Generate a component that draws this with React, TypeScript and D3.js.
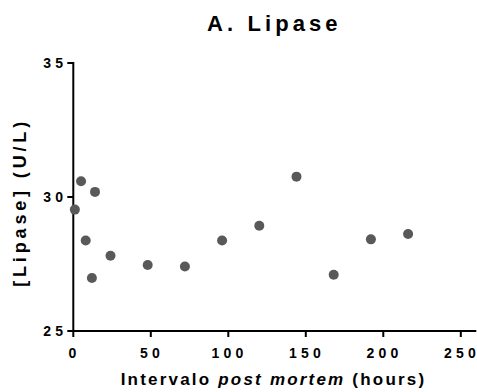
import React from "react";
import * as d3 from "d3";

const hours = [1, 5, 14, 8, 12, 24, 48, 72, 96, 120, 144, 168, 192, 216];
const lipase = [29.53, 30.59, 30.19, 28.38, 26.98, 27.81, 27.46, 27.41, 28.38, 28.93, 30.76, 27.1, 28.42, 28.62];
const xTicks = [0, 50, 100, 150, 200, 250];
const yTicks = [25, 30, 35];

export default function App() {
  const W = 477, H = 392;
  const x = d3.scaleLinear().domain([0, 260]).range([73.3, 476.3]);
  const y = d3.scaleLinear().domain([25, 35]).range([331, 63]);
  const font = "'Liberation Sans', Arial, sans-serif";
  const tickSp = 4.2;
  const lenOf = (t: number) => {
    const n = String(t).length;
    return 7.8 * n + tickSp * (n - 1);
  };
  return (
    <svg width={W} height={H} style={{ position: "absolute", left: 0, top: 0 }} fontFamily={font}>
      <text x={207} y={31} fontSize={22} fontWeight="bold" letterSpacing={4.1}>A. Lipase</text>
      {/* y axis */}
      <line x1={x(0)} x2={x(0)} y1={y(35) - 1} y2={y(25) + 1} stroke="#000" strokeWidth={2} />
      {yTicks.map(t => (
        <g key={t}>
          <line x1={x(0) - 6} x2={x(0)} y1={y(t)} y2={y(t)} stroke="#000" strokeWidth={2} />
          <text x={63} y={y(t) + 5} textAnchor="end" fontSize={14} fontWeight="bold"
            textLength={lenOf(t)} lengthAdjust="spacing">{t}</text>
        </g>
      ))}
      {/* x axis */}
      <line x1={x(0) - 1} x2={x(260)} y1={y(25)} y2={y(25)} stroke="#000" strokeWidth={2} />
      {xTicks.map(t => (
        <g key={t}>
          <line x1={x(t)} x2={x(t)} y1={y(25)} y2={y(25) + 6} stroke="#000" strokeWidth={2} />
          <text x={x(t) - 0.8} y={358} textAnchor="middle" fontSize={14} fontWeight="bold"
            textLength={lenOf(t)} lengthAdjust="spacing">{t}</text>
        </g>
      ))}
      <text x={120.7} y={385} fontSize={17} fontWeight="bold" letterSpacing={2.2}>
        Intervalo <tspan fontStyle="italic">post mortem</tspan> (hours)
      </text>
      <text transform={`translate(26,${200.5 + 1.9}) rotate(-90)`} textAnchor="middle" fontSize={18} fontWeight="bold" letterSpacing={3.85}>[Lipase] (U/L)</text>
      {hours.map((h, i) => (
        <circle key={i} cx={x(h)} cy={y(lipase[i])} r={5} fill="#595959" />
      ))}
    </svg>
  );
}
